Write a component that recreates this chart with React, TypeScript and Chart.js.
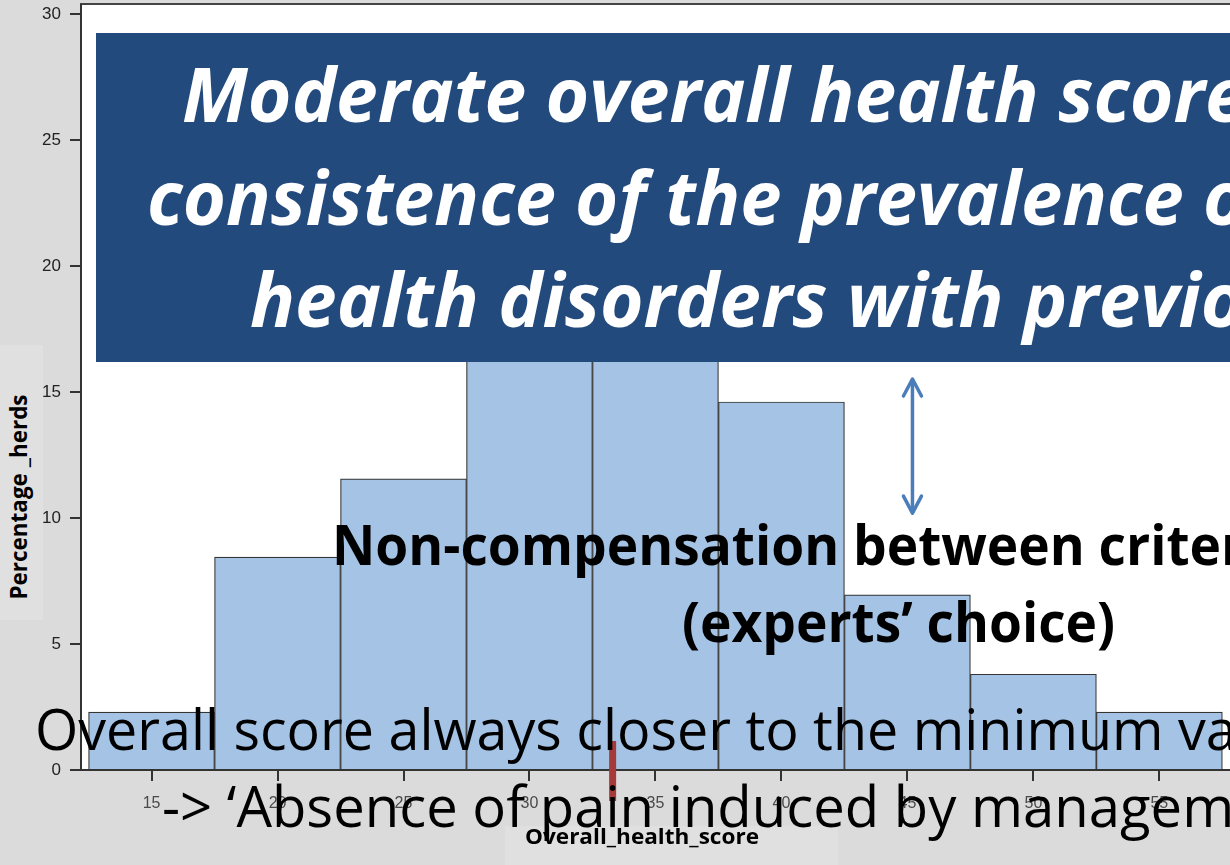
import React, { useEffect, useRef } from "react";
import { Chart, registerables } from "chart.js";

Chart.register(...registerables);

// ---------- data ----------
const binCenters = [15, 20, 25, 30, 35, 40, 45, 50, 55];
const percentHerds = [2.3, 8.45, 11.55, 23.5, 26.1, 14.6, 6.95, 3.8, 2.3];
const xTickValues = [15, 20, 25, 30, 35, 40, 45, 50, 55];
const yTickValues = [0, 5, 10, 15, 20, 25, 30];
const xRange = [12.2, 58.2];
const yRange = [0, 30.35];
const medianScore = 33.3;
const arrowX = 45.2;
const arrowY = [10.15, 15.55];

const X_TITLE = "Overall_health_score";
const Y_TITLE = "Percentage _herds";

const bannerLines = [
  "Moderate overall health score",
  "consistence of the prevalence of",
  "health disorders with previous",
];
const boldLines = ["Non-compensation between criteria", "(experts\u2019 choice)"];
const plainLines = [
  "Overall score always closer to the minimum value",
  "-> \u2018Absence of pain induced by management",
];

// ---------- colours ----------
const PAGE_BG = "#dbdbdb";
const BAR_FILL = "#a4c3e5";
const BAR_EDGE = "#353535";
const AXIS = "#333333";
const BANNER = "#224a7c";
const ARROW = "#4a7ebb";
const MARK = "#a63a3a";

const FAMILY = '"Open Sans", "Noto Sans", sans-serif';
const TICK_FAMILY = '"Liberation Sans", Arial, sans-serif';

type TextLine = {
  text: string;
  x: number;
  baseline: number;
  size: number;
  weight: number;
  italic?: boolean;
  color: string;
  ref: string;
  refWidth: number;
};

const measureCtx =
  typeof document !== "undefined"
    ? document.createElement("canvas").getContext("2d")
    : null;

function fontString(l: { size: number; weight: number; italic?: boolean }) {
  return `${l.italic ? "italic " : ""}${l.weight} ${l.size}px ${FAMILY}`;
}

function metrics(font: string, text: string) {
  if (!measureCtx) return { width: 1, ascent: 0, descent: 0 };
  measureCtx.font = font;
  const m = measureCtx.measureText(text);
  return {
    width: m.width,
    ascent: (m as any).fontBoundingBoxAscent ?? 0,
    descent: (m as any).fontBoundingBoxDescent ?? 0,
  };
}

const overlayLines: TextLine[] = [
  { text: bannerLines[0], x: 182, baseline: 122, size: 76, weight: 700, italic: true, color: "#ffffff", ref: "Moderate overall health scor", refWidth: 1023 },
  { text: bannerLines[1], x: 147, baseline: 225, size: 76, weight: 700, italic: true, color: "#ffffff", ref: "consistence of the prevalence ", refWidth: 1056 },
  { text: bannerLines[2], x: 250, baseline: 327, size: 76, weight: 700, italic: true, color: "#ffffff", ref: "health disorders with ", refWidth: 773 },
  { text: boldLines[0], x: 332, baseline: 565, size: 56, weight: 700, color: "#000000", ref: "Non-compensation ", refWidth: 521 },
  { text: boldLines[1], x: 682, baseline: 642, size: 56, weight: 700, color: "#000000", ref: boldLines[1], refWidth: 433 },
  { text: plainLines[0], x: 35, baseline: 750, size: 56, weight: 400, color: "#000000", ref: "Overall score always closer to the minimum ", refWidth: 1143 },
  { text: plainLines[1], x: 162, baseline: 827, size: 56, weight: 400, color: "#000000", ref: "-> \u2018Absence of pain induced by ", refWidth: 809 },
  { text: X_TITLE, x: 525, baseline: 844, size: 21, weight: 700, color: "#000000", ref: X_TITLE, refWidth: 234 },
];

function FitLine({ line }: { line: TextLine }) {
  const font = fontString(line);
  const full = metrics(font, line.text);
  const ref = metrics(font, line.ref);
  const sx = ref.width > 0 ? line.refWidth / ref.width : 1;
  const style: React.CSSProperties = {
    position: "absolute",
    left: line.x,
    top: line.baseline - full.ascent,
    fontFamily: FAMILY,
    fontSize: line.size,
    fontWeight: line.weight,
    fontStyle: line.italic ? "italic" : "normal",
    lineHeight: `${full.ascent + full.descent}px`,
    color: line.color,
    whiteSpace: "nowrap",
    transform: `scaleX(${sx})`,
    transformOrigin: "left top",
    margin: 0,
    padding: 0,
  };
  return <div style={style}>{line.text}</div>;
}

function YTitle() {
  const spec = { size: 24, weight: 700 };
  const font = fontString(spec);
  const m = metrics(font, Y_TITLE);
  const sx = 205 / m.width;
  return (
    <div
      style={{
        position: "absolute",
        left: 17,
        top: 497,
        fontFamily: FAMILY,
        fontSize: spec.size,
        fontWeight: spec.weight,
        lineHeight: `${m.ascent + m.descent}px`,
        whiteSpace: "nowrap",
        color: "#000",
        transformOrigin: "center center",
        transform: `translate(-50%, -50%) rotate(-90deg) scaleX(${sx})`,
      }}
    >
      {Y_TITLE}
    </div>
  );
}

export default function App() {
  const canvasRef = useRef<HTMLCanvasElement | null>(null);

  useEffect(() => {
    const canvas = canvasRef.current;
    if (!canvas) return;

    const decorations = {
      id: "decorations",
      beforeDraw(chart: any) {
        const { ctx, chartArea } = chart;
        ctx.save();
        ctx.fillStyle = PAGE_BG;
        ctx.fillRect(0, 0, chart.width, chart.height);
        ctx.fillStyle = "#ffffff";
        ctx.fillRect(chartArea.left, chartArea.top, chartArea.right - chartArea.left, chartArea.bottom - chartArea.top);
        ctx.strokeStyle = "#444";
        ctx.lineWidth = 2;
        ctx.beginPath();
        ctx.moveTo(chartArea.left - 1, chartArea.top - 1);
        ctx.lineTo(chartArea.right, chartArea.top - 1);
        ctx.stroke();
        ctx.restore();
      },
      afterDraw(chart: any) {
        const { ctx, chartArea, scales } = chart;
        const xs = scales.x;
        const ys = scales.y;
        ctx.save();
        // median marker
        const mx = xs.getPixelForValue(medianScore);
        ctx.fillStyle = MARK;
        ctx.fillRect(mx - 3.5, chartArea.bottom - 29, 7, 60);
        // double arrow
        const ax = xs.getPixelForValue(arrowX);
        const yTop = ys.getPixelForValue(arrowY[1]);
        const yBot = ys.getPixelForValue(arrowY[0]);
        ctx.strokeStyle = ARROW;
        ctx.lineWidth = 3.5;
        ctx.lineCap = "round";
        ctx.lineJoin = "round";
        ctx.beginPath();
        ctx.moveTo(ax, yTop + 2);
        ctx.lineTo(ax, yBot - 2);
        ctx.stroke();
        ctx.beginPath();
        ctx.moveTo(ax - 9, yTop + 18);
        ctx.lineTo(ax, yTop + 1);
        ctx.lineTo(ax + 9, yTop + 18);
        ctx.moveTo(ax - 9, yBot - 18);
        ctx.lineTo(ax, yBot - 1);
        ctx.lineTo(ax + 9, yBot - 18);
        ctx.stroke();
        ctx.restore();
      },
    };

    const chart = new Chart(canvas, {
      type: "bar",
      data: {
        datasets: [
          {
            data: binCenters.map((x, i) => ({ x, y: percentHerds[i] })),
            backgroundColor: BAR_FILL,
            borderColor: BAR_EDGE,
            borderWidth: 1.2,
            barPercentage: 1,
            categoryPercentage: 1,
          } as any,
        ],
      },
      options: {
        animation: false,
        responsive: false,
        devicePixelRatio: 1,
        layout: { padding: { top: 5, left: 0, right: 0, bottom: 0 } },
        plugins: {
          legend: { display: false },
          tooltip: { enabled: false },
          title: { display: false },
        },
        scales: {
          x: {
            type: "linear",
            offset: false,
            min: xRange[0],
            max: xRange[1],
            afterBuildTicks: (s: any) => {
              s.ticks = xTickValues.map((v) => ({ value: v }));
            },
            afterFit: (s: any) => {
              s.height = 95;
              s.paddingLeft = 0;
              s.paddingRight = 0;
            },
            ticks: {
              autoSkip: false,
              maxRotation: 0,
              color: "#4a4a4a",
              padding: 13,
              font: { family: TICK_FAMILY, size: 16 },
            },
            grid: { offset: false, drawOnChartArea: false, drawTicks: true, tickLength: 11, color: AXIS, lineWidth: 2 },
            border: { display: true, color: AXIS, width: 2 },
          },
          y: {
            type: "linear",
            min: yRange[0],
            max: yRange[1],
            afterBuildTicks: (s: any) => {
              s.ticks = yTickValues.map((v) => ({ value: v }));
            },
            afterFit: (s: any) => {
              s.width = 81;
              s.paddingTop = 0;
              s.paddingBottom = 0;
            },
            ticks: {
              color: "#222222",
              padding: 9,
              font: { family: TICK_FAMILY, size: 17 },
            },
            grid: { drawOnChartArea: false, drawTicks: true, tickLength: 11, color: AXIS, lineWidth: 2 },
            border: { display: true, color: AXIS, width: 2 },
          },
        },
      } as any,
      plugins: [decorations],
    });

    return () => chart.destroy();
  }, []);

  return (
    <div
      style={{
        position: "fixed",
        left: 0,
        top: 0,
        width: 1230,
        height: 865,
        overflow: "hidden",
        background: PAGE_BG,
      }}
    >
      <canvas
        ref={canvasRef}
        width={1240}
        height={865}
        style={{ position: "absolute", left: 0, top: 0, width: 1240, height: 865 }}
      />
      {/* pasted-label backgrounds */}
      <div style={{ position: "absolute", left: 0, top: 345, width: 43, height: 275, background: "#e0e0e0" }} />
      <div style={{ position: "absolute", left: 505, top: 826, width: 333, height: 39, background: "#e0e0e0" }} />
      {/* banner */}
      <div style={{ position: "absolute", left: 96, top: 33, width: 1200, height: 329, background: BANNER }} />
      {overlayLines.map((l, i) => (
        <FitLine key={i} line={l} />
      ))}
      <YTitle />
    </div>
  );
}
